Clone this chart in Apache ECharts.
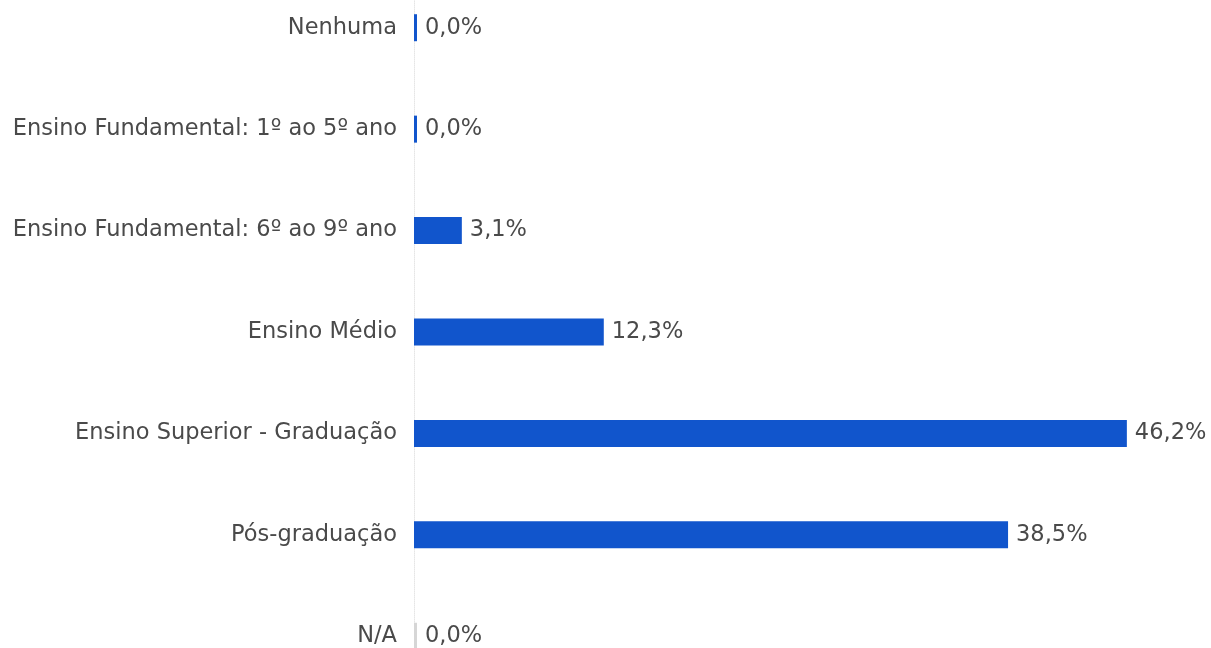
<!DOCTYPE html>
<html>
<head>
<meta charset="UTF-8">
<title>Escolaridade</title>
<script src="https://cdn.jsdelivr.net/npm/echarts@6/dist/echarts.min.js"></script>
<style>
  html, body { margin: 0; padding: 0; background: #fff; overflow: hidden; }
  #main { width: 1211px; height: 710px; margin-top: -23px; }
</style>
</head>
<body>
<div id="main"></div>
<script type="text/javascript">
// categorias e percentuais
var categorias = [
    'Nenhuma',
    'Ensino Fundamental: 1º ao 5º ano',
    'Ensino Fundamental: 6º ao 9º ano',
    'Ensino Médio',
    'Ensino Superior - Graduação',
    'Pós-graduação',
    'N/A'
];
var percentuais = [0.0, 0.0, 3.1, 12.3, 46.2, 38.5, 0.0];
var coresBarra = ['#1155cc', '#1155cc', '#1155cc', '#1155cc', '#1155cc', '#1155cc', '#d6d6d6'];

(function () {
    var myChart = echarts.init(document.getElementById('main'));
    var dados = [];
    for (let i = 0; i <= percentuais.length - 1; i++) {
        dados.push({ value: percentuais[i], itemStyle: { color: coresBarra[i] } });
    }
    var option = {
        animation: false,
        textStyle: { fontFamily: 'DejaVu Sans' },
        grid: { left: 414, right: 25.5, top: 0, bottom: 0, containLabel: false },
        xAxis: {
            type: 'value',
            min: 0,
            max: 50,
            show: false
        },
        yAxis: {
            type: 'category',
            inverse: true,
            data: categorias,
            axisTick: { show: false },
            axisLine: { show: true, lineStyle: { color: '#e6e6e6', type: 'dotted', width: 1 } },
            axisLabel: { color: '#4a4a4a', fontSize: 22.5, margin: 17, fontFamily: 'DejaVu Sans' }
        },
        series: [
            {
                type: 'bar',
                data: dados,
                barWidth: 27,
                barMinHeight: 3,
                label: {
                    show: true,
                    position: 'right',
                    distance: 8,
                    color: '#4a4a4a',
                    fontSize: 22.5,
                    fontFamily: 'DejaVu Sans',
                    formatter: function (arg) {
                        return arg.value.toFixed(1).replace('.', ',') + '%';
                    }
                }
            }
        ]
    };
    myChart.setOption(option);
})();
</script>
</body>
</html>
